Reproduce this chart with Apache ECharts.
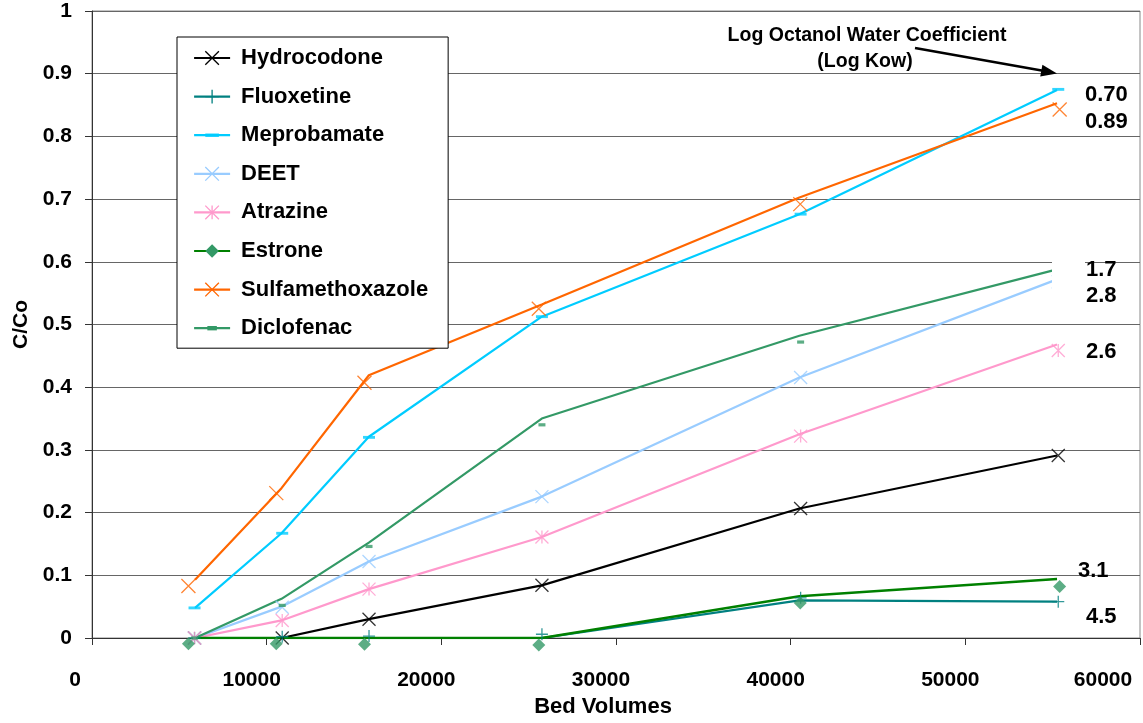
<!DOCTYPE html>
<html>
<head>
<meta charset="utf-8">
<script src="https://cdn.jsdelivr.net/npm/echarts@6/dist/echarts.min.js"></script>
<style>
html,body{margin:0;padding:0;background:#fff;}
#chart{width:1143px;height:723px;}
</style>
</head>
<body>
<div id="chart"></div>
<script>
// ---- data ----
const compounds = ['Hydrocodone','Fluoxetine','Meprobamate','DEET','Atrazine','Estrone','Sulfamethoxazole','Diclofenac'];
const lineBV  = [5900, 10850, 15850, 25750, 40500, 55250];
const markBV  = [5870, 10890, 15860, 25760, 40570, 55320];
const markBV2 = [5520, 10550, 15600, 25580, 40550, 55400];

const hydrocodoneLine = [0, 0, 0.030, 0.084, 0.2065, 0.291];
const hydrocodoneMark = [0, 0, 0.030, 0.084, 0.2065, 0.291];
const fluoxetineLine  = [0, 0, 0, 0, 0.060, 0.058];
const fluoxetineMark  = [0, 0.002, 0.003, 0.006, 0.064, 0.058];
const meprobamateLine = [0.048, 0.167, 0.321, 0.5125, 0.676, 0.874];
const meprobamateMark = [0.048, 0.167, 0.320, 0.5125, 0.676, 0.875];
const deetLine        = [0, 0.050, 0.122, 0.2255, 0.4155, 0.572];
const deetMark        = [0, 0.049, 0.122, 0.2255, 0.4155, 0.568];
const atrazineLine    = [0, 0.028, 0.078, 0.161, 0.325, 0.468];
const atrazineMark    = [0, 0.028, 0.078, 0.161, 0.322, 0.4585];
const estroneLine     = [0, 0, 0, 0, 0.0665, 0.094];
const estroneMark     = [-0.009, -0.009, -0.010, -0.011, 0.056, 0.082];
const sulfaLine       = [0.093, 0.239, 0.419, 0.532, 0.7025, 0.853];
const sulfaMark       = [0.083, 0.231, 0.407, 0.525, 0.692, 0.843];
const diclofenacLine  = [0, 0.0625, 0.152, 0.350, 0.482, 0.588];
const diclofenacMark  = [0, 0.052, 0.146, 0.340, 0.472, 0.586];

const kowLabels = ['0.70','0.89','1.7','2.8','2.6','3.1','4.5'];
const annotationTitle = ['Log Octanol Water Coefficient', '(Log Kow)'];

// ---- styles ----
const FONT = "'Liberation Sans', Arial, sans-serif";
const X_SYM = 'path://M0,0L10,10M0,10L10,0';
const PLUS_SYM = 'path://M5,0L5,10M0,5L10,5';
const AST_SYM = 'path://M0,0L10,10M0,10L10,0M5,0L5,10';
const DASH_SYM = 'path://M0,0M10,10M0,3.8L10,3.8L10,6.2L0,6.2Z';
const SHORT_DASH_SYM = 'path://M0,0M10,10M1.5,3.4L8.5,3.4L8.5,6.6L1.5,6.6Z';
const CLEAR = 'rgba(0,0,0,0)';

const styles = {
  Hydrocodone:      {line:'#000000', mark:'#000000', sym:X_SYM,    size:13, fill:false},
  Fluoxetine:       {line:'#008080', mark:'#008080', sym:PLUS_SYM, size:12, fill:false},
  Meprobamate:      {line:'#00CCFF', mark:'#00CCFF', sym:DASH_SYM, size:12, fill:true},
  DEET:             {line:'#99CCFF', mark:'#99CCFF', sym:X_SYM,    size:13, fill:false},
  Atrazine:         {line:'#FF99CC', mark:'#FF99CC', sym:AST_SYM,  size:13, fill:false},
  Estrone:          {line:'#008000', mark:'#339966', sym:'diamond',size:13, fill:true, width:2.6},
  Sulfamethoxazole: {line:'#FF6600', mark:'#FF6600', sym:X_SYM,    size:14, fill:false},
  Diclofenac:       {line:'#339966', mark:'#339966', sym:SHORT_DASH_SYM, size:10, fill:true}
};

const lineVals = {
  Hydrocodone: hydrocodoneLine, Fluoxetine: fluoxetineLine, Meprobamate: meprobamateLine,
  DEET: deetLine, Atrazine: atrazineLine, Estrone: estroneLine,
  Sulfamethoxazole: sulfaLine, Diclofenac: diclofenacLine
};
const markVals = {
  Hydrocodone: hydrocodoneMark, Fluoxetine: fluoxetineMark, Meprobamate: meprobamateMark,
  DEET: deetMark, Atrazine: atrazineMark, Estrone: estroneMark,
  Sulfamethoxazole: sulfaMark, Diclofenac: diclofenacMark
};
const markX = {Sulfamethoxazole: markBV2, Estrone: markBV2};

function itemStyleFor(s){
  return s.fill ? {color:s.mark, borderColor:s.mark, borderWidth:0}
                : {color:CLEAR, borderColor:s.mark, borderWidth:1.3};
}

const series = [];
compounds.forEach(function(name){
  const s = styles[name];
  series.push({
    name: name, type:'line', z: 2,
    data: lineBV.map(function(x,i){ return [x, lineVals[name][i]]; }),
    showSymbol:false, symbol:s.sym, symbolSize:s.size,
    lineStyle:{color:s.line, width:s.width || 2.2},
    itemStyle:itemStyleFor(s),
    animation:false, silent:true
  });
});
compounds.forEach(function(name){
  const s = styles[name];
  const xs = markX[name] || markBV;
  series.push({
    name: name + ' data', type:'scatter', z: 3, clip:false,
    data: xs.map(function(x,i){ return [x, markVals[name][i]]; }),
    symbol:s.sym, symbolSize:s.size,
    itemStyle:itemStyleFor(s),
    animation:false, silent:true
  });
});

const legendData = compounds.map(function(name){
  const s = styles[name];
  const it = itemStyleFor(s);
  return {name:name, itemStyle:it, lineStyle:{color:s.line, width:2.2}};
});

const chart = echarts.init(document.getElementById('chart'), null, {renderer:'canvas'});

const labelFont = {fontFamily:FONT, fontWeight:'bold', fontSize:21, color:'#000'};
const annFont = "bold 19.5px 'Liberation Sans', Arial";
const kowFont = "bold 22px 'Liberation Sans', Arial";

function kowText(i, x, y){
  return {type:'text', z:101, style:{text:kowLabels[i], x:x, y:y, font:kowFont, fill:'#000', verticalAlign:'middle', textVerticalAlign:'middle'}};
}

const option = {
  backgroundColor:'#fff',
  animation:false,
  grid:{left:92, right:3, top:11, bottom:85, show:true, borderColor:'#888', borderWidth:1},
  legend:{
    orient:'vertical', left:177, top:37,
    data:legendData,
    itemWidth:36, itemHeight:17, itemGap:16.6,
    padding:[10,20,9,16],
    borderColor:'#000', borderWidth:1, backgroundColor:'#fff',
    textStyle:{fontFamily:FONT, fontWeight:'bold', fontSize:22, color:'#000', lineHeight:22, padding:[0,0,0,6]},
    selectedMode:false
  },
  xAxis:{
    type:'value', min:0, max:60000, interval:10000,
    name:'Bed Volumes', nameLocation:'middle', nameGap:58,
    nameTextStyle:{fontFamily:FONT, fontWeight:'bold', fontSize:22, color:'#000', padding:[0,26,0,0]},
    axisLine:{show:true, lineStyle:{color:'#333', width:1}},
    axisTick:{show:true, inside:false, length:7, lineStyle:{color:'#333'}},
    splitLine:{show:false},
    axisLabel:{
      margin:32,
      formatter:function(v){
        if (v === 0) return '{a|0}';
        if (v === 60000) return '{c|60000}';
        return '{b|' + v + '}';
      },
      rich:{
        a:Object.assign({padding:[0,34,0,0]}, labelFont),
        b:Object.assign({padding:[0,30,0,0]}, labelFont),
        c:Object.assign({padding:[0,74,0,0]}, labelFont)
      }
    }
  },
  yAxis:{
    type:'value', min:0, max:1, interval:0.1,
    name:'C/Co', nameLocation:'middle', nameGap:58, nameRotate:90,
    nameTextStyle:Object.assign({}, labelFont, {fontSize:21}),
    axisLine:{show:true, lineStyle:{color:'#333', width:1}},
    axisTick:{show:true, inside:false, length:7, lineStyle:{color:'#333'}},
    splitLine:{show:true, lineStyle:{color:'#666', width:1}},
    axisLabel:Object.assign({margin:20}, labelFont)
  },
  series:series,
  graphic:[
    // white text-box that masks line ends behind the 1.7 / 2.8 labels
    {type:'rect', z:100, shape:{x:1052, y:252, width:33, height:50}, style:{fill:'#fff'}},
    {type:'text', z:101, style:{text:annotationTitle[0], x:867, y:36, font:annFont, fill:'#000', align:'center', verticalAlign:'middle', textAlign:'center', textVerticalAlign:'middle'}},
    {type:'text', z:101, style:{text:annotationTitle[1], x:865, y:62, font:annFont, fill:'#000', align:'center', verticalAlign:'middle', textAlign:'center', textVerticalAlign:'middle'}},
    {type:'line', z:101, shape:{x1:915, y1:48, x2:1043, y2:70.8}, style:{stroke:'#000', lineWidth:2.5}},
    {type:'polygon', z:101, shape:{points:[[1057,73.5],[1040.2,76.6],[1042.4,64.8]]}, style:{fill:'#000'}},
    kowText(0, 1085, 95),
    kowText(1, 1085, 122),
    kowText(2, 1086, 270),
    kowText(3, 1086, 296),
    kowText(4, 1086, 352),
    kowText(5, 1078, 571),
    kowText(6, 1086, 617)
  ]
};
chart.setOption(option);
</script>
</body>
</html>
